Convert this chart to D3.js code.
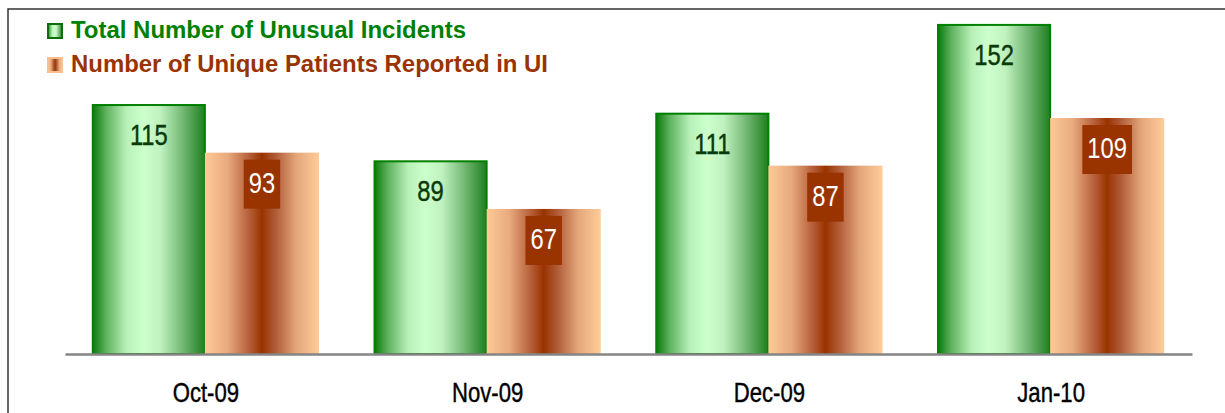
<!doctype html>
<html lang="en">
<head>
    <meta charset="utf-8">
    <title>Unusual Incidents</title>
    <script src="https://cdn.jsdelivr.net/npm/d3@7"></script>
    <style>
        html, body { margin: 0; padding: 0; background: #ffffff; }
        svg { display: block; }
    </style>
</head>
<body>
    <svg></svg>
    <script>
        var width = 1225;
        var height = 413;

        // data
        var categories = ["Oct-09", "Nov-09", "Dec-09", "Jan-10"];
        var seriesNames = ["Total Number of Unusual Incidents", "Number of Unique Patients Reported in UI"];
        var totalIncidents = [115, 89, 111, 152];
        var uniquePatients = [93, 67, 87, 109];

        var baseY = 354;
        var narrow = 0.82; // squeeze Liberation Sans into an Arial Narrow look

        var svg = d3.select("svg").attr("width", width).attr("height", height);
        var defs = svg.append("defs");

        var greenGrad = defs.append("linearGradient").attr("id", "gGreen")
            .attr("x1", "0%").attr("x2", "100%").attr("y1", "0%").attr("y2", "0%");
        [[0, "#0b7a0b"], [0.12, "#5fb25f"], [0.3, "#b8f0b8"], [0.45, "#ccffcc"], [0.6, "#c0f2c0"],
         [0.8, "#74b874"], [1, "#1f7f1f"]].forEach(function (s) {
            greenGrad.append("stop").attr("offset", s[0]).attr("stop-color", s[1]);
        });

        var brownGrad = defs.append("linearGradient").attr("id", "gBrown")
            .attr("x1", "0%").attr("x2", "100%").attr("y1", "0%").attr("y2", "0%");
        [[0, "#fdca97"], [0.2, "#e8aa7e"], [0.38, "#b8623d"], [0.5, "#993300"], [0.62, "#b05c38"],
         [0.8, "#e3a67a"], [1, "#ffcc99"]].forEach(function (s) {
            brownGrad.append("stop").attr("offset", s[0]).attr("stop-color", s[1]);
        });

        // frame
        svg.append("path")
            .attr("d", "M8,413 L8,9 L1225,9")
            .attr("fill", "none").attr("stroke", "#333333").attr("stroke-width", 1.5);

        var xScale = d3.scaleBand()
            .domain(categories)
            .range([65, 1192])
            .paddingInner(0.19)
            .paddingOuter(0.095);

        var xSub = d3.scaleBand()
            .domain([0, 1])
            .range([0, xScale.bandwidth()]);

        var yScale = d3.scaleLinear()
            .domain([0, 160])
            .range([baseY, baseY - 160 * 2.165]);

        var rows = categories.map(function (c, i) {
            return { cat: c, values: [totalIncidents[i], uniquePatients[i]] };
        });

        var groups = svg.selectAll("g.grp")
            .data(rows)
            .enter()
            .append("g")
            .attr("class", "grp")
            .attr("transform", function (d) { return "translate(" + xScale(d.cat) + ",0)"; });

        // green bars
        groups.append("rect")
            .attr("x", xSub(0) + 1)
            .attr("y", function (d) { return yScale(d.values[0]); })
            .attr("width", xSub.bandwidth() - 2)
            .attr("height", function (d) { return baseY - yScale(d.values[0]); })
            .attr("fill", "url(#gGreen)")
            .attr("stroke", "#008000")
            .attr("stroke-width", 2);

        // brown bars
        groups.append("rect")
            .attr("x", xSub(1) - 1)
            .attr("y", function (d) { return yScale(d.values[1]); })
            .attr("width", xSub.bandwidth())
            .attr("height", function (d) { return baseY - yScale(d.values[1]); })
            .attr("fill", "url(#gBrown)");

        // green value labels
        groups.append("text")
            .attr("transform", function (d) {
                return "translate(" + (xSub(0) + xSub.bandwidth() / 2) + "," + (yScale(d.values[0]) + 40) + ") scale(" + narrow + ",1)";
            })
            .attr("text-anchor", "middle")
            .attr("font-family", "Liberation Sans, Arial, sans-serif")
            .attr("font-size", 29)
            .attr("fill", "#0a3a0a")
            .attr("stroke", "#0a3a0a")
            .attr("stroke-width", 0.4)
            .text(function (d) { return d.values[0]; });

        // brown value labels with box
        groups.each(function (d) {
            var g = d3.select(this);
            var cx = xSub(1) + xSub.bandwidth() / 2 - 1;
            var top = yScale(d.values[1]);
            var txt = String(d.values[1]);
            var tw = txt.length * 0.556 * 29 * narrow;
            g.append("rect")
                .attr("x", cx - tw / 2 - 5)
                .attr("y", top + 7)
                .attr("width", tw + 10)
                .attr("height", 49)
                .attr("fill", "#993300");
            g.append("text")
                .attr("transform", "translate(" + cx + "," + (top + 40) + ") scale(" + narrow + ",1)")
                .attr("text-anchor", "middle")
                .attr("font-family", "Liberation Sans, Arial, sans-serif")
                .attr("font-size", 29)
                .attr("fill", "#ffffff")
                .text(txt);
        });

        // x axis
        var xAxis = d3.axisBottom(xScale).tickSize(0).tickPadding(0);
        var axisG = svg.append("g")
            .attr("transform", "translate(0," + baseY + ")")
            .call(xAxis);
        axisG.select(".domain").attr("stroke", "#858585").attr("stroke-width", 2.5);
        axisG.selectAll(".tick text")
            .attr("y", 0)
            .attr("dy", 0)
            .attr("transform", "translate(0,48) scale(" + narrow + ",1)")
            .attr("font-family", "Liberation Sans, Arial, sans-serif")
            .attr("font-size", 27)
            .attr("fill", "#000000")
            .attr("stroke", "#000000")
            .attr("stroke-width", 0.4);

        // legend
        var legendColors = ["#008000", "#993300"];
        var legendFills = ["url(#gGreen)", "url(#gBrown)"];
        var legendStrokes = ["#0b6e0b", "#f8c090"];
        var legendLengths = [395, 477];
        var legend = svg.selectAll("g.leg")
            .data(seriesNames)
            .enter()
            .append("g")
            .attr("class", "leg")
            .attr("transform", function (d, i) { return "translate(47," + (23 + i * 34) + ")"; });

        legend.append("rect")
            .attr("x", 1).attr("y", 1)
            .attr("width", 14).attr("height", 14)
            .attr("fill", function (d, i) { return legendFills[i]; })
            .attr("stroke", function (d, i) { return legendStrokes[i]; })
            .attr("stroke-width", 2);

        legend.append("text")
            .attr("x", 24)
            .attr("y", 15)
            .attr("font-family", "Liberation Sans, Arial, sans-serif")
            .attr("font-weight", "bold")
            .attr("font-size", 23)
            .attr("textLength", function (d, i) { return legendLengths[i]; })
            .attr("lengthAdjust", "spacingAndGlyphs")
            .attr("fill", function (d, i) { return legendColors[i]; })
            .text(function (d) { return d; });
    </script>
</body>
</html>
